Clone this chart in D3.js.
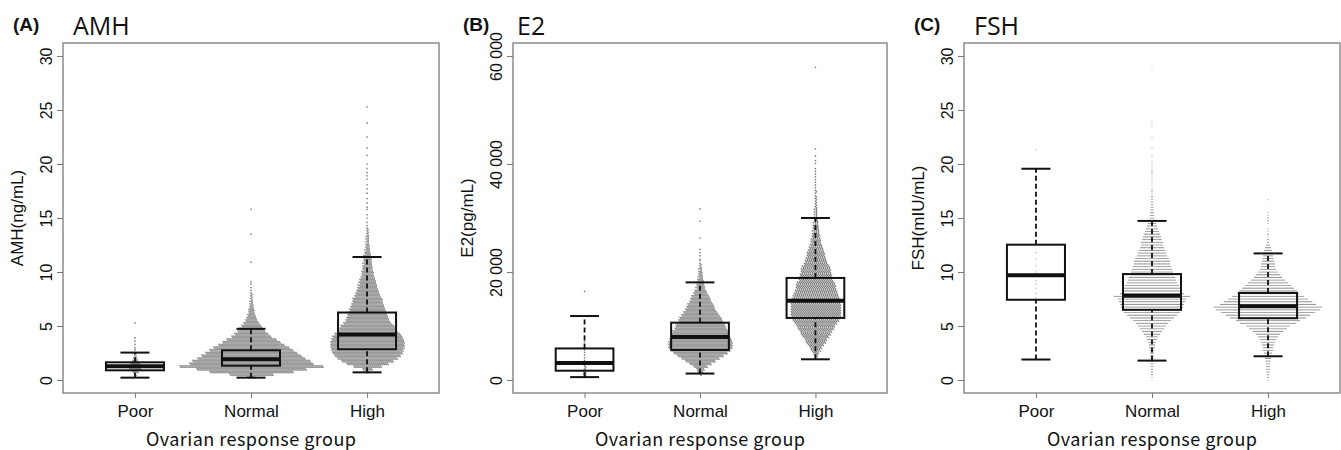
<!DOCTYPE html>
<html>
<head>
<meta charset="utf-8">
<script src="https://cdn.jsdelivr.net/npm/d3@7"></script>
<style>
  body { margin: 0; background: #fff; }
  svg { display: block; }
</style>
</head>
<body>
<div id="vis"></div>
<script>
// groups on the x axis
const groups = ["Poor", "Normal", "High"];

// tick labels
const amhTicks = [0, 5, 10, 15, 20, 25, 30];
const e2Ticks = [0, 20000, 40000, 60000];
const fshTicks = [0, 5, 10, 15, 20, 25, 30];

// box stats per group: lower whisker, Q1, median, Q3, upper whisker
const amhStats = [[0.22, 0.9, 1.28, 1.64, 2.54], [0.22, 1.33, 1.92, 2.75, 4.74], [0.71, 2.85, 4.22, 6.25, 11.39]];
const e2Stats = [[540, 1730, 3160, 5850, 11850], [1200, 5570, 7990, 10620, 18080], [3840, 11500, 14700, 18900, 30000]];
const fshStats = [[1.9, 7.43, 9.71, 12.53, 19.56], [1.8, 6.5, 7.8, 9.81, 14.73], [2.2, 5.72, 6.84, 8.06, 11.72]];

// beeswarm: number of points in each bin (bin i = i * step), plus single scattered points
const amhStep = 0.25;
const amhPoorCounts = [0, 1, 2, 6, 12, 14, 10, 6, 4, 2, 2, 1];
const amhPoorExtra = [3.0, 3.3, 3.6, 3.9, 5.3];
const amhNormalCounts = [0, 8, 44, 84, 110, 144, 124, 118, 108, 100, 92, 84, 76, 66, 58, 50, 40, 34, 28, 24,
  20, 16, 12, 10, 8, 6, 6, 4, 4, 3, 2, 2, 2, 1, 1];
const amhNormalExtra = [8.9, 9.1, 10.9, 13.5, 15.8];
const amhHighCounts = [0, 0, 0, 4, 10, 28, 42, 52, 60, 66, 70, 72, 74, 74, 74, 72, 70, 66, 60, 56,
  54, 48, 44, 42, 40, 38, 36, 34, 32, 30, 30, 26, 24, 22, 20, 19, 17, 16, 14, 12,
  12, 10, 10, 9, 8, 8, 7, 6, 5, 4, 4, 3, 3, 3, 2, 2, 2];
const amhHighExtra = [14.3, 14.6, 15.0, 15.3, 15.8, 16.0, 16.4, 16.8, 17.3, 17.7, 18.1, 18.6, 18.9, 19.2, 19.6, 20.0, 20.8, 21.5, 22.5, 23.8, 25.3];

const e2Step = 500;
const e2PoorCounts = [0, 1, 3, 3, 2, 2, 2, 2, 1, 1, 1, 1, 1, 0, 1, 0, 1];
const e2PoorExtra = [16400];
const e2NormalCounts = [0, 0, 2, 6, 8, 14, 22, 30, 38, 46, 54, 60, 64, 64, 64, 62, 60, 58, 56, 52,
  50, 48, 44, 42, 38, 34, 30, 28, 26, 22, 20, 18, 14, 12, 9, 8, 7, 6, 5, 4, 4, 3, 2, 2, 1];
const e2NormalExtra = [22400, 23000, 23600, 24200, 26300, 29400, 31700];
const e2HighCounts = [0, 0, 0, 0, 0, 0, 0, 0, 2, 4, 6, 10, 12, 16, 20, 22, 26, 30, 32, 36,
  38, 42, 46, 48, 50, 50, 50, 50, 50, 48, 48, 46, 44, 42, 40, 40, 38, 34, 32, 32,
  30, 30, 28, 24, 22, 20, 18, 18, 16, 14, 12, 10, 10, 8, 8, 7, 6, 6, 5, 4,
  4, 3, 3, 3, 2, 2, 2, 2, 2, 1, 2, 1, 1, 1, 1, 1, 1, 1, 1, 0, 1, 1];
const e2HighExtra = [41500, 42800, 57900];

const fshStep = 0.25;
const fshPoorCounts = [];
const fshPoorExtra = [1.9, 7.6, 8.0, 8.5, 8.9, 9.2, 9.7, 9.9, 10.1, 10.6, 11.2, 11.8, 12.5, 13.3, 19.5, 21.3];
const fshNormalCounts = [1, 1, 2, 2, 2, 2, 3, 3, 3, 3, 4, 4, 6, 6, 8, 10, 12, 16, 20, 24,
  28, 32, 38, 44, 50, 56, 60, 62, 64, 66, 68, 76, 64, 60, 56, 54, 50, 48, 46, 44,
  42, 40, 38, 36, 36, 34, 30, 28, 26, 24, 22, 22, 20, 18, 16, 14, 12, 10, 8, 6,
  5, 4, 4, 3, 3, 3, 2, 2, 2, 1, 2, 1, 1, 1, 1, 1, 1, 2, 1, 1, 1, 1, 0, 1];
const fshNormalExtra = [21.5, 22.5, 23.5, 23.8, 29.0];
const fshHighCounts = [1, 2, 2, 3, 4, 4, 4, 5, 6, 6, 8, 10, 10, 12, 14, 16, 20, 24, 30, 38,
  44, 56, 64, 76, 84, 94, 104, 108, 96, 88, 80, 72, 62, 58, 52, 46, 40, 34, 28, 24,
  20, 16, 14, 14, 12, 12, 10, 10, 8, 6, 4, 2, 2, 1, 2, 1, 1, 0, 1, 2, 2, 1, 1];
const fshHighExtra = [16.7];

// frame
const WIDTH = 1341;
const HEIGHT = 450;
const TOP = 43;
const BOTTOM = 393;

const SVG = d3.select("#vis")
  .append("svg")
    .attr("width", WIDTH)
    .attr("height", HEIGHT);

const PANELS = [
  { letter: "(A)", title: "AMH", ylab: "AMH(ng/mL)", left: 63, right: 439, ymax: 30,
    ticks: amhTicks, stats: amhStats, step: amhStep, rows: 2,
    counts: [amhPoorCounts, amhNormalCounts, amhHighCounts], extra: [amhPoorExtra, amhNormalExtra, amhHighExtra] },
  { letter: "(B)", title: "E2", ylab: "E2(pg/mL)", left: 513, right: 887, ymax: 60000,
    ticks: e2Ticks, stats: e2Stats, step: e2Step, rows: 2,
    counts: [e2PoorCounts, e2NormalCounts, e2HighCounts], extra: [e2PoorExtra, e2NormalExtra, e2HighExtra] },
  { letter: "(C)", title: "FSH", ylab: "FSH(mIU/mL)", left: 964, right: 1340, ymax: 30,
    ticks: fshTicks, stats: fshStats, step: fshStep, rows: 1,
    counts: [fshPoorCounts, fshNormalCounts, fshHighCounts], extra: [fshPoorExtra, fshNormalExtra, fshHighExtra] }
];

const FONT = "'Liberation Sans', Arial, sans-serif";

PANELS.forEach((p) => {
  const g = SVG.append("g");

  const X_SCALE = d3.scalePoint().domain(groups).range([p.left, p.right]).padding(0.62);
  const pad = p.ymax * 0.04;
  const Y_SCALE = d3.scaleLinear().domain([-pad, p.ymax + pad]).range([BOTTOM, TOP]);
  const boxW = X_SCALE.step() * 0.5;

  // beeswarm points, built from the bin counts
  const pts = [];
  const spacing = p.rows == 2 ? 2 : 1;
  groups.forEach((grp, gi) => {
    const cx = X_SCALE(grp);
    p.counts[gi].forEach((n, i) => {
      if (!n) return;
      const yc = Y_SCALE(i * p.step);
      for (let r = 0; r < p.rows; r++) {
        const m = Math.ceil((n - r) / p.rows);
        for (let k = 0; k < m; k++) {
          pts.push({
            x: cx + (k - (m - 1) / 2) * spacing + (r % 2 ? spacing / 2 : 0),
            y: yc + (r - (p.rows - 1) / 2) * 1.35
          });
        }
      }
    });
    p.extra[gi].forEach((v) => { pts.push({ x: cx, y: Y_SCALE(v) }); });
  });

  g.append("g").selectAll("circle")
    .data(pts)
    .enter()
    .append("circle")
      .attr("cx", (d) => d.x)
      .attr("cy", (d) => d.y)
      .attr("r", p.rows == 2 ? 0.85 : 0.6)
      .attr("fill", p.rows == 2 ? "#808080" : "#9a9a9a");

  // boxplots on top
  const boxes = g.append("g").selectAll("g")
    .data(p.stats)
    .enter()
    .append("g");

  boxes.append("line") // lower whisker
    .attr("x1", (d, i) => X_SCALE(groups[i])).attr("x2", (d, i) => X_SCALE(groups[i]))
    .attr("y1", (d) => Y_SCALE(d[0])).attr("y2", (d) => Y_SCALE(d[1]))
    .attr("stroke", "#111").attr("stroke-width", 1.8).attr("stroke-dasharray", "5,3");
  boxes.append("line") // upper whisker
    .attr("x1", (d, i) => X_SCALE(groups[i])).attr("x2", (d, i) => X_SCALE(groups[i]))
    .attr("y1", (d) => Y_SCALE(d[3])).attr("y2", (d) => Y_SCALE(d[4]))
    .attr("stroke", "#111").attr("stroke-width", 1.8).attr("stroke-dasharray", "5,3");
  [0, 4].forEach((j) => {
    boxes.append("line") // staples
      .attr("x1", (d, i) => X_SCALE(groups[i]) - boxW / 4).attr("x2", (d, i) => X_SCALE(groups[i]) + boxW / 4)
      .attr("y1", (d) => Y_SCALE(d[j])).attr("y2", (d) => Y_SCALE(d[j]))
      .attr("stroke", "#111").attr("stroke-width", 2);
  });
  boxes.append("rect")
    .attr("x", (d, i) => X_SCALE(groups[i]) - boxW / 2)
    .attr("y", (d) => Y_SCALE(d[3]))
    .attr("width", boxW)
    .attr("height", (d) => Y_SCALE(d[1]) - Y_SCALE(d[3]))
    .attr("fill", "none").attr("stroke", "#111").attr("stroke-width", 2);
  boxes.append("line") // median
    .attr("x1", (d, i) => X_SCALE(groups[i]) - boxW / 2).attr("x2", (d, i) => X_SCALE(groups[i]) + boxW / 2)
    .attr("y1", (d) => Y_SCALE(d[2])).attr("y2", (d) => Y_SCALE(d[2]))
    .attr("stroke", "#111").attr("stroke-width", 4);

  // plot frame
  g.append("rect")
    .attr("x", p.left).attr("y", TOP)
    .attr("width", p.right - p.left).attr("height", BOTTOM - TOP)
    .attr("fill", "none").attr("stroke", "#8c8c8c").attr("stroke-width", 1.5);

  // y axis, labels parallel to the axis
  g.append("g")
    .attr("transform", "translate(" + p.left + ",0)")
    .call(d3.axisLeft(Y_SCALE).tickValues(p.ticks).tickSize(6)
      .tickFormat((d) => d3.format(",")(d).replace(",", " ")))
    .attr("font-family", FONT).attr("font-size", 16)
    .call((a) => a.select(".domain").remove())
    .call((a) => a.selectAll(".tick line").attr("stroke", "#777"))
    .call((a) => a.selectAll(".tick text")
      .attr("x", 0).attr("dy", 0).attr("fill", "#111")
      .attr("text-anchor", "middle")
      .attr("transform", "translate(-11,0) rotate(-90)"));

  // x axis
  g.append("g")
    .attr("transform", "translate(0," + BOTTOM + ")")
    .call(d3.axisBottom(X_SCALE).tickSize(5))
    .attr("font-family", FONT).attr("font-size", 17)
    .call((a) => a.select(".domain").remove())
    .call((a) => a.selectAll(".tick line").attr("stroke", "#777"))
    .call((a) => a.selectAll(".tick text").attr("y", 24).attr("dy", 0).attr("fill", "#111"));

  // axis titles
  g.append("text")
    .attr("transform", "translate(" + (p.left - 40) + "," + ((TOP + BOTTOM) / 2) + ") rotate(-90)")
    .attr("text-anchor", "middle")
    .attr("font-family", FONT).attr("font-size", 17).attr("fill", "#111")
    .text(p.ylab);
  g.append("text")
    .attr("x", (p.left + p.right) / 2).attr("y", 446)
    .attr("text-anchor", "middle")
    .attr("font-family", "'Noto Sans CJK JP', 'Noto Sans', sans-serif").attr("font-size", 18)
    .attr("textLength", 210).attr("lengthAdjust", "spacing")
    .attr("fill", "#111")
    .text("Ovarian response group");

  // panel letter and title
  g.append("text")
    .attr("x", p.left - 50).attr("y", 31)
    .attr("font-family", FONT).attr("font-size", 19).attr("font-weight", "bold").attr("fill", "#111")
    .text(p.letter);
  g.append("text")
    .attr("x", p.left + (p.title == "E2" ? 4 : 10)).attr("y", 35)
    .attr("font-family", "'Open Sans', 'Noto Sans', sans-serif").attr("font-size", 25).attr("fill", "#111")
    .text(p.title);
});
</script>
</body>
</html>
